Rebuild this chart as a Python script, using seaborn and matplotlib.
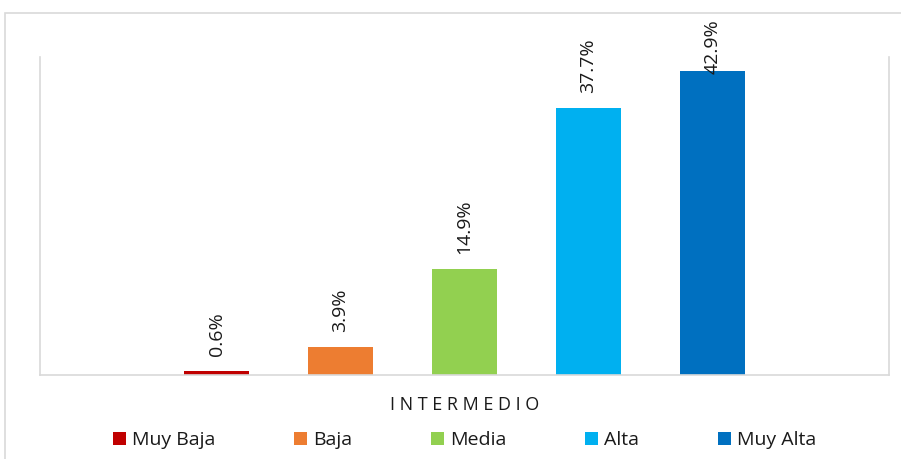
import matplotlib
matplotlib.use("Agg")
import matplotlib.pyplot as plt
from matplotlib.patches import Rectangle
import seaborn as sns
import pandas as pd

# Data
grupo = "INTERMEDIO"
niveles = ["Muy Baja", "Baja", "Media", "Alta", "Muy Alta"]
porcentajes = [0.6, 3.9, 14.9, 37.7, 42.9]
colores = ["#C00000", "#ED7D31", "#92D050", "#00B0F0", "#0070C0"]

sns.set_theme(style="white")
plt.rcParams["font.family"] = ["Open Sans", "DejaVu Sans"]

W, H = 901, 459
fig = plt.figure(figsize=(W / 100, H / 100), dpi=100)
ax = fig.add_axes([40 / W, (H - 375) / H, 849 / W, 318 / H])

df = pd.DataFrame({"grupo": [grupo] * len(niveles), "nivel": niveles, "pct": porcentajes})
sns.barplot(data=df, x="grupo", y="pct", hue="nivel", hue_order=niveles,
            palette=colores, width=0.73, gap=0.47, saturation=1,
            errorbar=None, linewidth=0, ax=ax)

ax.set_ylim(0, 44.85)
ax.set_xlim(-0.5, 0.5)
ax.set_yticks([])
ax.set_ylabel("")
ax.set_xlabel("")
ax.set_xticks([0])
ax.set_xticklabels([" ".join(grupo)], fontsize=13, color="#1a1a1a")
ax.tick_params(axis="x", length=0, pad=15)

for side in ["left", "right", "bottom"]:
    ax.spines[side].set_color("#d9d9d9")
    ax.spines[side].set_linewidth(1.2)
ax.spines["top"].set_visible(False)

# Rotated value labels above each bar, kept inside the chart frame
pad = 2.1
tope = 42.45
for cont, valor in zip(ax.containers, porcentajes):
    bar = cont[0]
    xc = bar.get_x() + bar.get_width() / 2
    ax.text(xc, min(valor + pad, tope), f"{valor:.1f}%", rotation=90,
            ha="center", va="bottom", fontsize=14, color="#1a1a1a",
            clip_on=False, zorder=5)

# Legend row below the axis
handles, labels = ax.get_legend_handles_labels()
ax.legend(handles, labels, loc="center", ncol=5, frameon=False,
          bbox_to_anchor=(464.5 / W, 1 - 440 / H), bbox_transform=fig.transFigure,
          fontsize=14, handlelength=0.68, handleheight=0.68,
          handletextpad=0.3, columnspacing=4.05, labelcolor="#1a1a1a")

# Chart frame
fig.patches.append(Rectangle((5 / W, -0.1), 1.0, 1 - 13 / H + 0.1,
                             transform=fig.transFigure, fill=False,
                             edgecolor="#d9d9d9", linewidth=1.2))

fig.savefig("out.png", dpi=100)
